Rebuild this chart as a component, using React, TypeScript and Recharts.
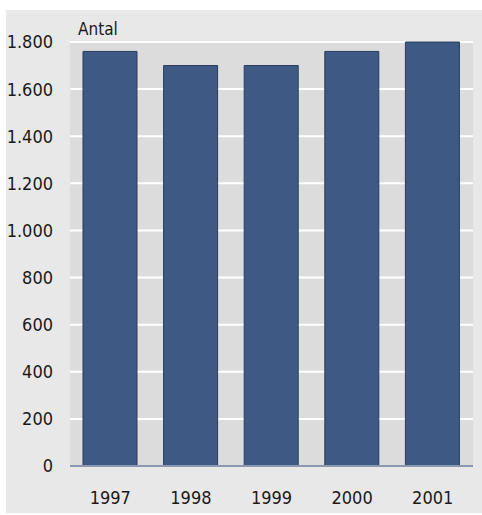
import { BarChart, Bar, XAxis, YAxis, CartesianGrid } from 'recharts';

const years = ['1997', '1998', '1999', '2000', '2001'];
const antal = [1760, 1700, 1700, 1760, 1800];
const yTicks = [0, 200, 400, 600, 800, 1000, 1200, 1400, 1600, 1800];

const chartData = years.map((year, i) => ({ year, antal: antal[i] }));

const font = '"DejaVu Sans Condensed", "DejaVu Sans", sans-serif';

// swedish style thousands separator: 1800 -> 1.800
const formatTick = (v: number) => (v >= 1000 ? `${Math.floor(v / 1000)}.${String(v % 1000).padStart(3, '0')}` : String(v));

const App = () => {
  return (
    <div
      style={{
        position: 'absolute',
        left: 6,
        top: 10,
        width: 476,
        height: 503,
        background: '#e8e8e8',
        fontFamily: font,
      }}
    >
      <BarChart
        width={476}
        height={503}
        data={chartData}
        margin={{ top: 32, right: 9, left: 0, bottom: 0 }}
        barCategoryGap={0}
      >
        <CartesianGrid fill="#dcdcdc" stroke="#ffffff" strokeWidth={2} vertical={false} />
        <XAxis
          dataKey="year"
          height={47}
          tickLine={false}
          tickSize={0}
          tickMargin={25}
          axisLine={{ stroke: '#8a98b0', strokeWidth: 2 }}
          tick={{ fill: '#1a1a1a', fontSize: 18, fontFamily: font }}
        />
        <YAxis
          width={64}
          domain={[0, 1800]}
          ticks={yTicks}
          tickFormatter={formatTick}
          axisLine={false}
          tickLine={false}
          tickSize={0}
          tickMargin={17}
          tick={{ fill: '#1a1a1a', fontSize: 18, fontFamily: font }}
        />
        <Bar dataKey="antal" fill="#3f5985" stroke="#2a3b5c" strokeWidth={1} barSize={54} isAnimationActive={false} />
      </BarChart>
      <svg width={200} height={40} style={{ position: 'absolute', left: 0, top: 0 }}>
        <text x={72} y={25} fontSize={17} fontFamily={font} fill="#1a1a1a">
          Antal
        </text>
      </svg>
    </div>
  );
};

export default App;
